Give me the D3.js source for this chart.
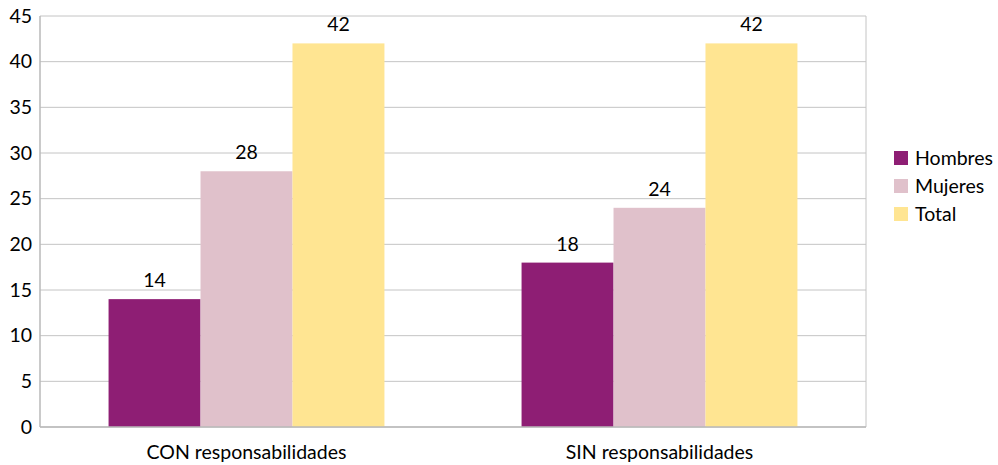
<!DOCTYPE html>
<html>
<head>
<meta charset="utf-8">
<script src="https://cdn.jsdelivr.net/npm/d3@7"></script>
<style>
  body { margin: 0; background: #fff; }
  svg text { font-family: Lato, "Open Sans", sans-serif; fill: #000; }
</style>
</head>
<body>
<div id="chart"></div>
<script>
// data
const categories = ["CON responsabilidades", "SIN responsabilidades"];
const seriesNames = ["Hombres", "Mujeres", "Total"];
const hombres = [14, 18];
const mujeres = [28, 24];
const total = [42, 42];
const yTicks = [0, 5, 10, 15, 20, 25, 30, 35, 40, 45];

const colors = ["#8e1e74", "#e0c1cb", "#ffe592"];

const width = 998, height = 465;
const margin = { top: 16, right: 132, bottom: 38, left: 40 };
const innerWidth = width - margin.left - margin.right;
const innerHeight = height - margin.top - margin.bottom;
const fontSize = "19.5px";

const svg = d3.select("#chart").append("svg")
    .attr("width", width)
    .attr("height", height);

const g = svg.append("g")
    .attr("transform", `translate(${margin.left},${margin.top})`);

const values = [hombres, mujeres, total];

const x0 = d3.scaleBand()
    .domain(categories)
    .range([0, innerWidth])
    .paddingInner(0.332)
    .paddingOuter(0.166);

const x1 = d3.scaleBand()
    .domain(seriesNames)
    .range([0, x0.bandwidth()]);

const y = d3.scaleLinear()
    .domain([0, 45])
    .range([innerHeight, 0]);

// gridlines
g.selectAll("line.grid")
    .data(yTicks)
    .enter().append("line")
    .attr("class", "grid")
    .attr("x1", 0)
    .attr("x2", innerWidth)
    .attr("y1", d => y(d))
    .attr("y2", d => y(d))
    .attr("stroke", "#c4c4c4")
    .attr("stroke-width", 1);

// plot border (right side) and left axis
g.append("line")
    .attr("x1", innerWidth).attr("x2", innerWidth)
    .attr("y1", 0).attr("y2", innerHeight)
    .attr("stroke", "#c4c4c4");
g.append("line")
    .attr("x1", 0).attr("x2", 0)
    .attr("y1", 0).attr("y2", innerHeight)
    .attr("stroke", "#b8b8b8")
    .attr("stroke-width", 1.5);

// bars
categories.forEach(function (cat, i) {
    seriesNames.forEach(function (s, j) {
        const v = values[j][i];
        g.append("rect")
            .attr("x", x0(cat) + x1(s))
            .attr("y", y(v))
            .attr("width", x1.bandwidth())
            .attr("height", y(0) - y(v))
            .attr("fill", colors[j]);
        g.append("text")
            .attr("x", x0(cat) + x1(s) + x1.bandwidth() / 2)
            .attr("y", y(v) - 12)
            .attr("text-anchor", "middle")
            .style("font-size", fontSize)
            .text(v);
    });
});

// bottom line on top of bars
g.append("line")
    .attr("x1", 0).attr("x2", innerWidth)
    .attr("y1", innerHeight).attr("y2", innerHeight)
    .attr("stroke", "#b8b8b8")
    .attr("stroke-width", 1.5);

// y axis labels
const yAxis = g.append("g")
    .call(d3.axisLeft(y).tickValues(yTicks).tickSize(0).tickPadding(8));
yAxis.select(".domain").remove();
yAxis.selectAll("text")
    .style("font-size", fontSize)
    .style("font-family", "Lato, 'Open Sans', sans-serif")
    .attr("fill", "#000");

// x axis labels
const xAxis = g.append("g")
    .attr("transform", `translate(0,${innerHeight})`)
    .call(d3.axisBottom(x0).tickSize(0).tickPadding(18));
xAxis.select(".domain").remove();
xAxis.selectAll("text")
    .style("font-size", fontSize)
    .style("font-family", "Lato, 'Open Sans', sans-serif")
    .attr("fill", "#000");

// legend
const legend = svg.append("g")
    .attr("transform", "translate(894,151)");
seriesNames.forEach(function (s, j) {
    const row = legend.append("g").attr("transform", `translate(0,${j * 28})`);
    row.append("rect")
        .attr("width", 14).attr("height", 14)
        .attr("fill", colors[j]);
    row.append("text")
        .attr("x", 21).attr("y", 7)
        .attr("dy", "0.35em")
        .style("font-size", fontSize)
        .text(s);
});
</script>
</body>
</html>
